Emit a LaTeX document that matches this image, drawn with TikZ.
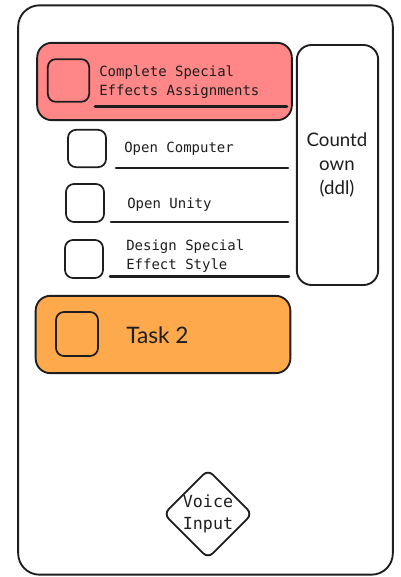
\documentclass[tikz,border=0pt]{standalone}
\usepackage{fontspec}
\setmonofont{DejaVu Sans Mono}
\newfontfamily\handfont{Lato}
\usetikzlibrary{shapes.geometric}
\definecolor{redfill}{HTML}{FF8787}
\definecolor{orangefill}{HTML}{FFA94D}
\definecolor{ink}{HTML}{1E1E1E}
\begin{document}
\begin{tikzpicture}[x=0.75pt,y=-0.75pt,
  frame/.style={draw=ink,line width=1.4pt,rounded corners=16pt,inner sep=0pt},
  taskbox/.style={draw=ink,line width=1.4pt,rounded corners=11pt,inner sep=0pt,minimum width=191pt,minimum height=58pt},
  chk/.style={draw=ink,line width=1.3pt,rounded corners=6pt,inner sep=0pt},
  uline/.style={draw=ink,line width=1.9pt,line cap=round},
  mono/.style={font=\ttfamily\fontsize{10.5pt}{13.8pt}\selectfont,text=ink,inner sep=0pt},
  hand/.style={font=\handfont\fontsize{14pt}{18pt}\selectfont,text=ink,inner sep=0pt}]
\useasboundingbox (0,0) rectangle (400,577);
% outer frame
\node[frame,minimum width=281pt,minimum height=427pt] (outer) at (205.5,290) {};
% main task
\node[taskbox,fill=redfill] (red) at (164.5,81.5) {};
\node[chk,minimum width=31pt,minimum height=32pt] (c0) at (68.5,80.5) {};
\node[mono,anchor=west,align=left] (t0) at (99,82) {Complete Special\\Effects Assignments};
\coordinate (u0a) at (95,106.5); \coordinate (u0b) at (287,106.5);
\draw[uline] (u0a) -- (u0b);
% countdown
\node[frame,rounded corners=11pt,minimum width=61pt,minimum height=180pt] (cd) at (337.5,165) {};
\node[hand,align=center] (cdt) at (337,165) {Countd\\own\\(ddl)};
% subtasks
\node[chk,minimum width=28.5pt,minimum height=28pt] (c1) at (87,148.5) {};
\node[mono,anchor=west] (t1) at (124,148.5) {Open Computer};
\coordinate (u1a) at (116,168); \coordinate (u1b) at (288,168);
\draw[uline] (u1a) -- (u1b);
\node[chk,minimum width=28.5pt,minimum height=28.5pt] (c2) at (85,203) {};
\node[mono,anchor=west] (t2) at (127,204.5) {Open Unity};
\coordinate (u2a) at (111,222); \coordinate (u2b) at (288,222);
\draw[uline] (u2a) -- (u2b);
\node[chk,minimum width=28.5pt,minimum height=28.5pt] (c3) at (84,259) {};
\node[mono,anchor=west,align=left] (t3) at (126,256) {Design Special\\Effect Style};
\coordinate (u3a) at (110,276.5); \coordinate (u3b) at (289,276.5);
\draw[uline] (u3a) -- (u3b);
% task 2
\node[taskbox,fill=orangefill] (t2box) at (163,334.5) {};
\node[chk,minimum width=31.5pt,minimum height=33pt] (c4) at (77,334) {};
\node[hand,anchor=west,font=\handfont\fontsize{17pt}{20pt}\selectfont] (t4) at (126,335) {Task 2};
% voice input
\node[diamond,draw=ink,line width=1.4pt,rounded corners=5pt,minimum width=66pt,minimum height=64pt,inner sep=0pt,
  align=center,font=\ttfamily\fontsize{12.5pt}{17pt}\selectfont,text=ink] (voice) at (208,514) {Voice\\Input};
\end{tikzpicture}
\end{document}
